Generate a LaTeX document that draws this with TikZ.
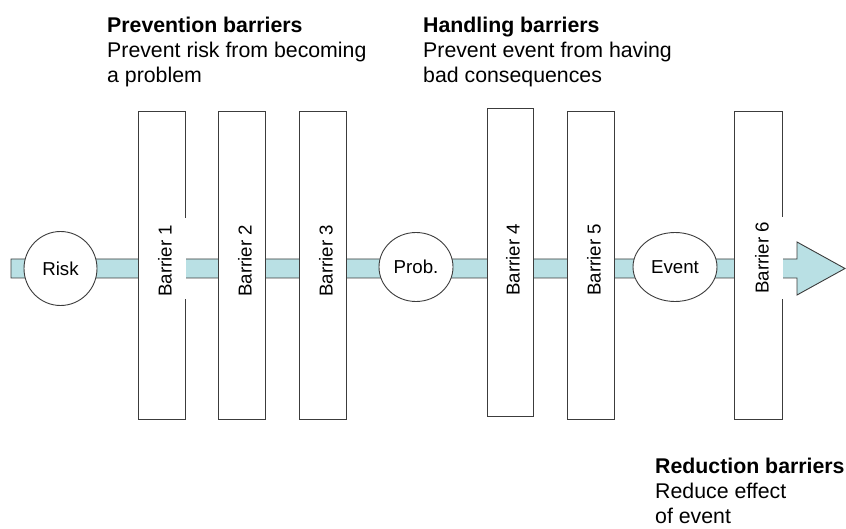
\documentclass[tikz,border=0pt]{standalone}
\usepackage{fontspec}
\setmainfont{Liberation Sans}
\usetikzlibrary{shapes.geometric}
\definecolor{bandfill}{RGB}{185,224,228}
\definecolor{edge}{RGB}{60,60,60}
\begin{document}
\begin{tikzpicture}[x=1pt,y=-1pt,
  stage/.style={ellipse, draw=edge, line width=0.9pt, fill=white, inner sep=0pt,
    font=\fontsize{18.7}{22}\selectfont},
  barrier/.style={rectangle, draw=edge, line width=0.9pt, fill=white,
    minimum width=47pt, minimum height=308pt, inner sep=0pt},
  blabel/.style={rotate=90, inner sep=0pt, font=\fontsize{18.7}{22}\selectfont},
  caption/.style={anchor=north west, inner sep=0pt, align=left,
    font=\fontsize{21.3}{25}\selectfont},
  flow/.style={draw=edge, fill=bandfill, line width=0.9pt, line join=miter},
]
\useasboundingbox (0,0) rectangle (846,529);

% the flow band with its arrow head
\coordinate (tail) at (11,268.5);
\coordinate (tip) at (845,268.5);
\draw[flow] (tail |- 0,259) -- (797,259) -- (797,242) -- (tip)
  -- (797,295) -- (797,278) -- (tail |- 0,278) -- cycle;

% stages along the flow
\node[stage, minimum width=73pt, minimum height=74pt] (risk) at (60.5,268.5) {Risk};
\node[stage, minimum width=74pt, minimum height=69pt] (prob) at (416,267) {Prob.};
\node[stage, minimum width=84pt, minimum height=69pt] (event) at (675,267) {Event};

% barriers
\node[barrier] (b1) at (161.5,265) {};
\node[barrier] (b2) at (241.5,265) {};
\node[barrier] (b3) at (322.5,265) {};
\node[barrier, minimum width=46pt] (b4) at (510,262) {};
\node[barrier] (b5) at (590.5,265) {};
\node[barrier, minimum width=48pt] (b6) at (758,265) {};

% the label boxes of barriers 1 and 6 reach over their right edges
\fill[white] (180,218) rectangle (185.6,299);
\fill[white] (777,217) rectangle (782.6,299);

\node[blabel] (l1) at (165,261) {Barrier 1};
\node[blabel] (l2) at (245,261) {Barrier 2};
\node[blabel] (l3) at (326,261) {Barrier 3};
\node[blabel] (l4) at (513,260) {Barrier 4};
\node[blabel] (l5) at (594,260) {Barrier 5};
\node[blabel] (l6) at (762,258) {Barrier 6};

% captions
\node[caption] (prevcap) at (107,16.7)
  {\textbf{Prevention barriers}\\Prevent risk from becoming\\a problem};
\node[caption] (handcap) at (423,16.7)
  {\textbf{Handling barriers}\\Prevent event from having\\bad consequences};
\node[caption] (redcap) at (655,457.7)
  {\textbf{Reduction barriers}\\Reduce effect\\of event};
\end{tikzpicture}
\end{document}
